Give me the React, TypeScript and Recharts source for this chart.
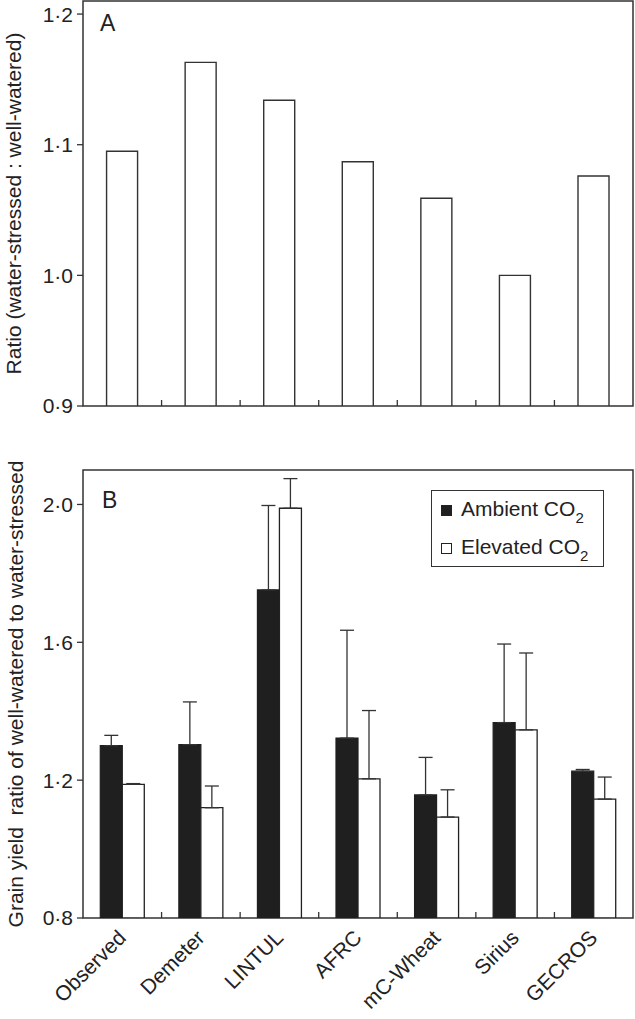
import React from 'react';
import { BarChart, Bar, XAxis, YAxis, ErrorBar, ReferenceArea, Label, Legend } from 'recharts';

const categories = ['Observed', 'Demeter', 'LINTUL', 'AFRC', 'mC-Wheat', 'Sirius', 'GECROS'];
const ratioA = [1.095, 1.163, 1.134, 1.087, 1.059, 1.0, 1.076];
const ambient = [1.3, 1.303, 1.752, 1.322, 1.157, 1.367, 1.226];
const ambientErr = [0.03, 0.124, 0.245, 0.313, 0.109, 0.228, 0.005];
const elevated = [1.188, 1.12, 1.989, 1.204, 1.093, 1.346, 1.145];
const elevatedErr = [0.002, 0.063, 0.086, 0.198, 0.079, 0.223, 0.064];
const domainA = [0.9, 1.21];
const domainB = [0.8, 2.1];
const ticksA = [0.9, 1.0, 1.1, 1.2];
const ticksB = [0.8, 1.2, 1.6, 2.0];
const labelA = 'Ratio (water-stressed : well-watered)';
const labelB = 'Grain yield \u00A0ratio of well-watered to water-stressed';

const FONT = '"Liberation Sans", Arial, Helvetica, sans-serif';
const INK = '#222';
const FRAME = '#333';
const FS = 21;

const fmt = (v: number) => v.toFixed(1).replace('.', '\u00B7');

const dataA = categories.map((name, i) => ({ name, ratio: ratioA[i] }));
const dataB = categories.map((name, i) => ({
  name,
  ambient: ambient[i],
  ambErr: [0, ambientErr[i]],
  elevated: elevated[i],
  elevErr: [0, elevatedErr[i]],
}));

const yLabel = (text: string, cxOffset: number) => (props: any) => {
  const vb = props.viewBox;
  const cx = vb.x + cxOffset;
  const cy = vb.y + vb.height / 2;
  return (
    <text
      x={cx}
      y={cy}
      transform={`rotate(-90 ${cx} ${cy})`}
      textAnchor="middle"
      dominantBaseline="central"
      fontSize={FS}
      fontFamily={FONT}
      fill={INK}
    >
      {text}
    </text>
  );
};

const panelLabel = (text: string, dx: number, dy: number) => (props: any) => {
  const vb = props.viewBox;
  return (
    <text x={vb.x + dx} y={vb.y + dy} fontSize={23} fontFamily={FONT} fill={INK}>
      {text}
    </text>
  );
};

// boundary tick between categories, pointing inward (up), at right edge of each band
const boundaryLine = (props: any, axisY: number) => {
  const { x, payload, index, visibleTicksCount } = props;
  const off = payload && typeof payload.offset === 'number' ? payload.offset : 0;
  const count = visibleTicksCount ?? categories.length;
  if (index >= count - 1 || !off) return null;
  const bx = x + off;
  return <line x1={bx} x2={bx} y1={axisY} y2={axisY - 6} stroke={FRAME} strokeWidth={1.3} />;
};

const BoundTick = (props: any) => <g>{boundaryLine(props, props.y)}</g>;

const RotTick = (props: any) => {
  const { x, y, payload } = props;
  const ax = x + 5;
  const ay = y + 21;
  return (
    <g>
      {boundaryLine(props, y)}
      <text
        x={ax}
        y={ay}
        transform={`rotate(-45 ${ax} ${ay})`}
        textAnchor="end"
        fontSize={FS}
        fontFamily={FONT}
        fill={INK}
      >
        {payload.value}
      </text>
    </g>
  );
};

const LegendBox = () => (
  <div
    style={{
      position: 'relative',
      width: 173,
      height: 77,
      boxSizing: 'border-box',
      border: `1.5px solid ${FRAME}`,
      background: '#fff',
      fontFamily: FONT,
      fontSize: FS,
      color: INK,
      lineHeight: '20px',
      whiteSpace: 'nowrap',
    }}
  >
    {[
      { text: 'Ambient CO', fill: '#1f1f1f', top: 8 },
      { text: 'Elevated CO', fill: '#fff', top: 46 },
    ].map((r) => (
      <div key={r.text} style={{ position: 'absolute', left: 9, top: r.top }}>
        <span
          style={{
            display: 'inline-block',
            width: 11,
            height: 11,
            boxSizing: 'border-box',
            background: r.fill,
            border: '1px solid #222',
            marginRight: 9,
            verticalAlign: 'baseline',
          }}
        />
        {r.text}
        <span style={{ fontSize: 15, position: 'relative', top: 7 }}>2</span>
      </div>
    ))}
  </div>
);

export default function App() {
  return (
    <div style={{ position: 'absolute', left: 0, top: 0, width: 635, height: 1019, background: '#fff' }}>
      <div style={{ position: 'absolute', left: 0, top: 0 }}>
        <BarChart
          width={635}
          height={420}
          data={dataA}
          margin={{ top: 1, right: 2, bottom: 13, left: 0 }}
          barCategoryGap="30%"
        >
          <XAxis dataKey="name" height={1} tick={<BoundTick />} tickSize={0} tickMargin={0}
            axisLine={false} tickLine={false} interval={0} />
          <YAxis
            domain={domainA}
            ticks={ticksA}
            allowDataOverflow
            tickFormatter={fmt}
            width={83}
            tickSize={6}
            tickMargin={4}
            axisLine={false}
            tickLine={{ stroke: FRAME, strokeWidth: 1.3 }}
            tick={{ fontSize: FS, fill: INK, fontFamily: FONT }}
          >
            <Label content={yLabel(labelA, 13)} />
          </YAxis>
          <Bar dataKey="ratio" fill="#fff" stroke={FRAME} strokeWidth={1.4} isAnimationActive={false} />
          <ReferenceArea x1={categories[0]} x2={categories[categories.length - 1]}
            y1={domainA[0]} y2={domainA[1]} fill="none" fillOpacity={0} stroke={FRAME} strokeWidth={1.5} ifOverflow="visible">
            <Label content={panelLabel('A', 17, 30)} />
          </ReferenceArea>
        </BarChart>
      </div>
      <div style={{ position: 'absolute', left: 0, top: 420 }}>
        <BarChart
          width={635}
          height={599}
          data={dataB}
          margin={{ top: 50, right: 2, bottom: 0, left: 0 }}
          barCategoryGap="22%"
          barGap={0}
        >
          <XAxis dataKey="name" height={101} tickSize={0} tickMargin={0} axisLine={false}
            tickLine={false} tick={<RotTick />} interval={0} />
          <YAxis
            domain={domainB}
            ticks={ticksB}
            allowDataOverflow
            tickFormatter={fmt}
            width={83}
            tickSize={6}
            tickMargin={4}
            axisLine={false}
            tickLine={{ stroke: FRAME, strokeWidth: 1.3 }}
            tick={{ fontSize: FS, fill: INK, fontFamily: FONT }}
          >
            <Label content={yLabel(labelB, 15)} />
          </YAxis>
          <Legend content={<LegendBox />} layout="horizontal" verticalAlign="middle" align="center"
            wrapperStyle={{ left: 431, top: 70, width: 'auto', height: 'auto' }} />
          <Bar dataKey="ambient" name="Ambient CO2" fill="#1f1f1f" stroke="#1f1f1f" strokeWidth={1.2} isAnimationActive={false}>
            <ErrorBar dataKey="ambErr" direction="y" width={7} stroke={FRAME} strokeWidth={1.3} />
          </Bar>
          <Bar dataKey="elevated" name="Elevated CO2" fill="#fff" stroke={INK} strokeWidth={1.3} isAnimationActive={false}>
            <ErrorBar dataKey="elevErr" direction="y" width={7} stroke={FRAME} strokeWidth={1.3} />
          </Bar>
          <ReferenceArea x1={categories[0]} x2={categories[categories.length - 1]}
            y1={domainB[0]} y2={domainB[1]} fill="none" fillOpacity={0} stroke={FRAME} strokeWidth={1.5} ifOverflow="visible">
            <Label content={panelLabel('B', 19, 38)} />
          </ReferenceArea>
        </BarChart>
      </div>
    </div>
  );
}
